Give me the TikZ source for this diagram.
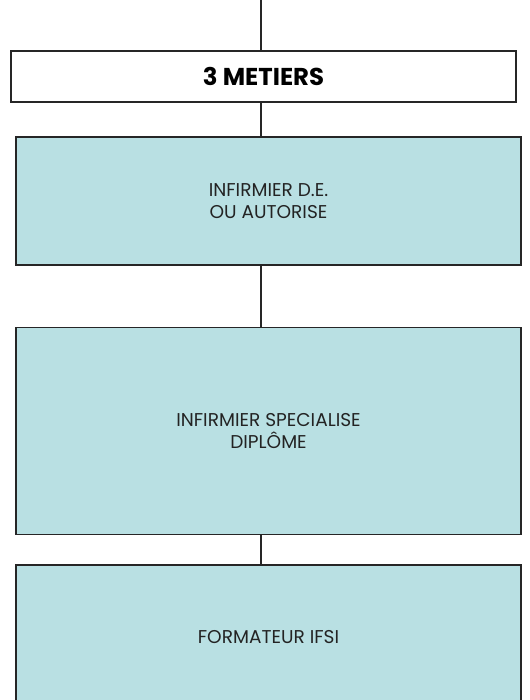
\documentclass[tikz,border=0pt]{standalone}
\usepackage{fontspec}
\setmainfont{Poppins}
\definecolor{boxteal}{RGB}{185, 224, 227}
\definecolor{textgray}{RGB}{35, 35, 35}
\usetikzlibrary{positioning, calc}

\begin{document}
\begin{tikzpicture}[
  x=0.75pt, y=-0.75pt,
  box/.style={draw=black!85, line width=1.3pt, fill=boxteal, minimum width=378.75pt, align=center, inner sep=0pt, font=\fontsize{13.9}{16.5}\selectfont, text=textgray},
  titlebox/.style={draw=black!85, line width=1.3pt, fill=white, minimum width=378.75pt, minimum height=38.25pt, inner sep=0pt, font=\fontsize{18.3}{20}\selectfont\bfseries},
  link/.style={draw=black!85, line width=1pt}
]
  \useasboundingbox (0,0) rectangle (530,700);
  \coordinate (top) at (261,0);
  \node[titlebox] (metiers) at (263.5, 76.5) {3 METIERS};
  \node[box, minimum height=96pt] (ide) at (268.5, 201) {
    INFIRMIER D.E.\\
    OU AUTORISE
  };
  \node[box, minimum height=155.25pt] (spec) at (268.5, 431) {
    INFIRMIER SPECIALISE\\
    DIPLÔME
  };
  \node[box, minimum height=108pt] (form) at (268.5, 637) {FORMATEUR IFSI};
  % connectors
  \draw[link] (top) -- (top |- metiers.north);
  \draw[link] (metiers.south -| top) -- (top |- ide.north);
  \draw[link] (ide.south -| top) -- (top |- spec.north);
  \draw[link] (spec.south -| top) -- (top |- form.north);
\end{tikzpicture}
\end{document}
